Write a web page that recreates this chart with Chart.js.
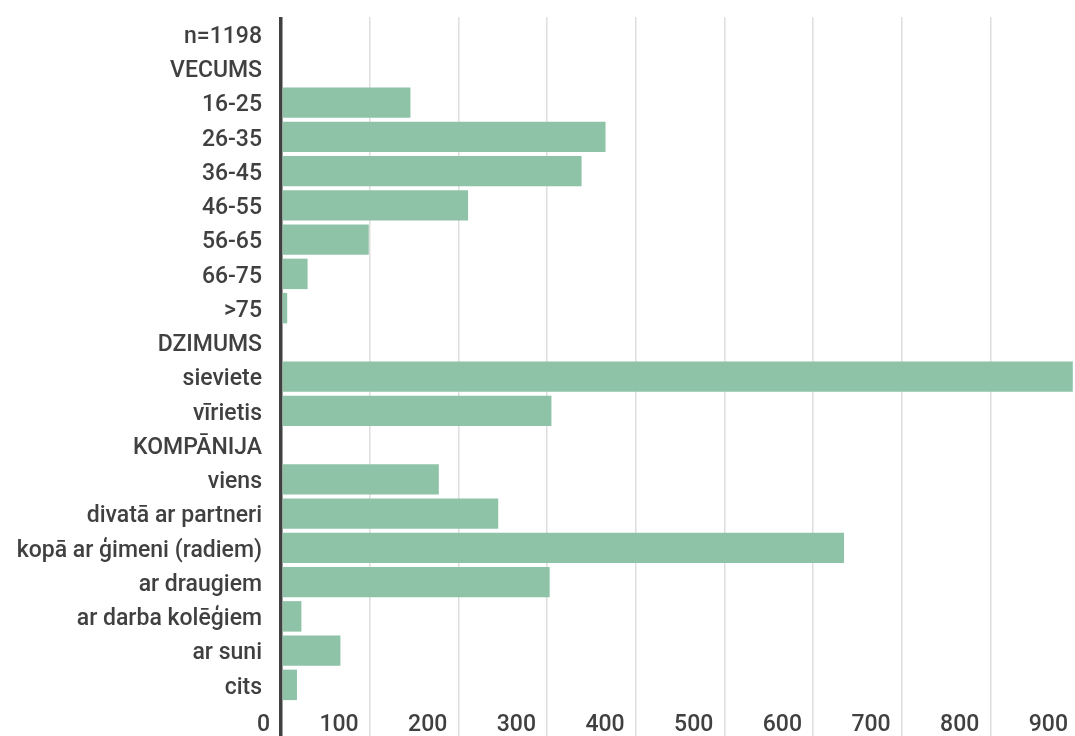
<!DOCTYPE html>
<html>
<head>
<meta charset="utf-8">
<script src="https://cdn.jsdelivr.net/npm/chart.js@4.4.1/dist/chart.umd.min.js"></script>
<style>
  html, body { margin: 0; padding: 0; background: #fff; overflow: hidden; }
  #wrap { position: relative; width: 1080px; height: 736px; }
</style>
</head>
<body>
<div id="wrap"><canvas id="chart"></canvas></div>
<script>
// Survey respondents by group (section headers carry no bar)
const categories = [
  'n=1198',
  'VECUMS',
  '16-25', '26-35', '36-45', '46-55', '56-65', '66-75', '>75',
  'DZIMUMS',
  'sieviete', 'vīrietis',
  'KOMPĀNIJA',
  'viens', 'divatā ar partneri', 'kopā ar ģimeni (radiem)', 'ar draugiem',
  'ar darba kolēģiem', 'ar suni', 'cits'
];
const respondents = [
  null,
  null,
  146, 366, 339, 211, 99, 30, 7,
  null,
  893, 305,
  null,
  178, 245, 635, 303,
  23, 67, 18
];
const xTickValues = [0, 100, 200, 300, 400, 500, 600, 700, 800, 900];

const TEXT = '#404040';
const GRID = '#dedede';
const FONT = { family: 'Roboto', size: 23, weight: '500' };

new Chart(document.getElementById('chart'), {
  type: 'bar',
  data: {
    labels: categories,
    datasets: [{
      data: respondents,
      backgroundColor: '#8ec3a8',
      borderWidth: 0,
      barPercentage: 0.89,
      categoryPercentage: 1
    }]
  },
  options: {
    indexAxis: 'y',
    responsive: true,
    maintainAspectRatio: false,
    animation: false,
    layout: { padding: { top: 17, right: 1, left: 0, bottom: 0 } },
    plugins: { legend: { display: false }, tooltip: { enabled: false } },
    scales: {
      x: {
        min: 0,
        max: 900,
        afterBuildTicks: (s) => { s.ticks = xTickValues.map(v => ({ value: v })); },
        afterFit: (s) => { s.height = 34; s.paddingLeft = 0; s.paddingRight = 0; },
        border: { display: false },
        grid: {
          color: (c) => (c.tick && c.tick.value === 0 ? TEXT : GRID),
          tickColor: (c) => (c.tick && c.tick.value === 0 ? TEXT : GRID),
          lineWidth: (c) => (c.tick && c.tick.value === 0 ? 3.5 : 1.5),
          drawTicks: true,
          tickLength: 40
        },
        ticks: {
          align: 'end',
          labelOffset: -11,
          padding: -31,
          maxRotation: 0,
          autoSkip: false,
          color: TEXT,
          font: FONT
        }
      },
      y: {
        afterFit: (s) => { s.width = 281; s.paddingTop = 0; s.paddingBottom = 0; },
        border: { display: false },
        grid: { display: false, drawTicks: false },
        ticks: {
          padding: 19,
          labelOffset: 3,
          autoSkip: false,
          color: TEXT,
          font: FONT
        }
      }
    }
  }
});
</script>
</body>
</html>
